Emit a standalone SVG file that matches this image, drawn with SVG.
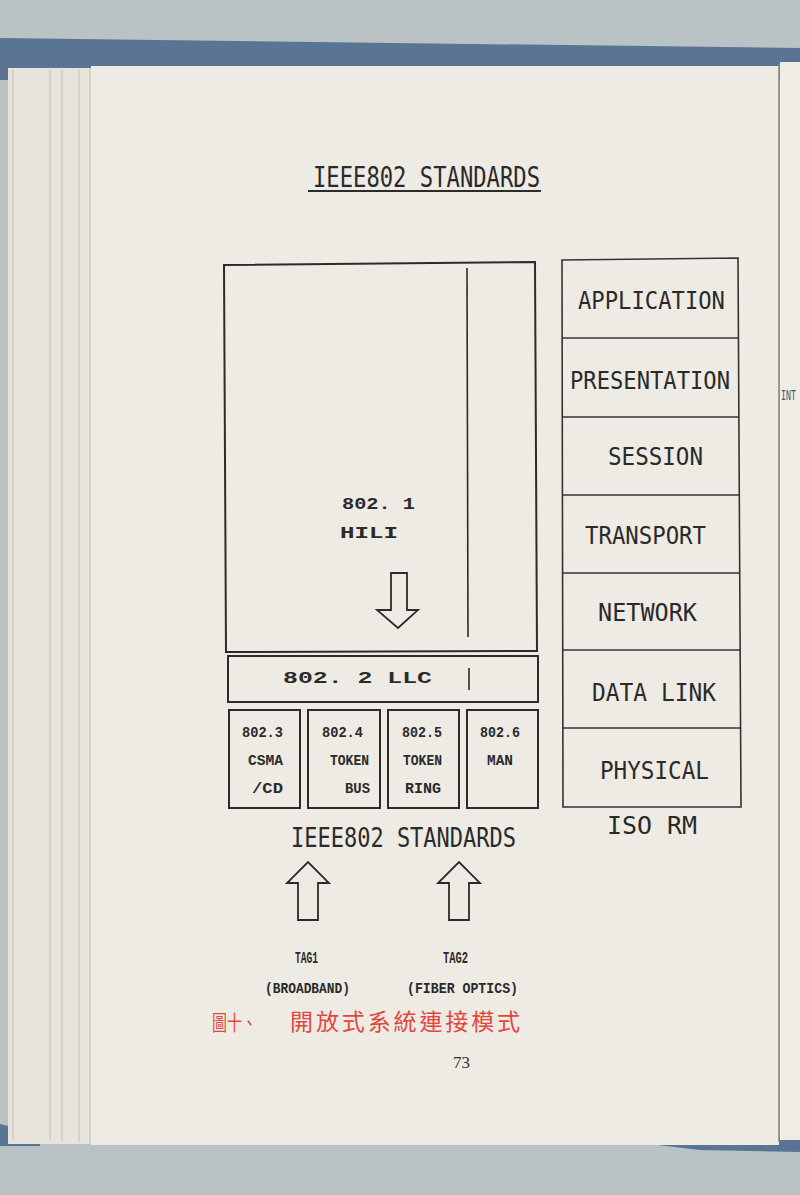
<svg xmlns="http://www.w3.org/2000/svg" width="800" height="1195" viewBox="0 0 800 1195">
<style>
.box{fill:none;stroke:#2b2b2b;stroke-width:2}
.iso{fill:none;stroke:#333;stroke-width:1.6}
.arrow{fill:none;stroke:#2b2b2b;stroke-width:1.8;stroke-linejoin:miter}
.mono{font-family:"DejaVu Sans Mono","Liberation Mono",monospace;fill:#2a2a2a}
.dot{font-family:"Liberation Mono","DejaVu Sans Mono",monospace;font-weight:bold;fill:#2a2a2a}
.cap{font-family:"Noto Sans CJK TC","Noto Sans CJK SC",sans-serif;fill:#e4453c}
</style>
<!-- backdrop -->
<rect x="0" y="0" width="800" height="1195" fill="#b9c2c5"/>
<polygon points="0,38 800,48 800,80 0,80" fill="#5a7494"/>
<polygon points="0,1124 40,1134 40,1146 0,1146" fill="#5a7494"/>
<polygon points="640,1143 800,1136 800,1152 700,1150" fill="#5a7494"/>
<!-- left page stack -->
<rect x="8" y="68" width="86" height="1076" fill="#e8e4db"/>
<g stroke="#cdc8bd" stroke-width="1.2">
<line x1="13" y1="70" x2="13" y2="1140"/>
<line x1="50" y1="70" x2="50" y2="1140"/>
<line x1="62" y1="70" x2="62" y2="1142"/>
<line x1="79" y1="70" x2="79" y2="1142"/>
<line x1="90" y1="68" x2="90" y2="1144"/>
</g>
<!-- main page -->
<rect x="91" y="66" width="688" height="1079" fill="#eeebe4"/>
<rect x="780" y="62" width="20" height="1078" fill="#f0ede7"/>
<line x1="779" y1="64" x2="779" y2="1142" stroke="#8e887e" stroke-width="1.6"/>
<text x="781" y="400" font-family="DejaVu Sans Mono, monospace" font-size="14" fill="#555" textLength="15" lengthAdjust="spacingAndGlyphs">INT</text>

<!-- title -->
<g id="title">
<text x="313" y="187" class="mono" font-size="28" textLength="227" lengthAdjust="spacingAndGlyphs">IEEE802 STANDARDS</text>
<line x1="308" y1="191" x2="541" y2="191" stroke="#2b2b2b" stroke-width="1.8"/>
</g>

<!-- 802.1 HILI -->
<g id="node-8021">
<polygon class="box" points="224,265 535,262 537,651 226,652"/>
<line x1="467" y1="268" x2="468" y2="637" stroke="#2b2b2b" stroke-width="1.6"/>
<text x="342" y="509" class="dot" font-size="17" textLength="73" lengthAdjust="spacingAndGlyphs">802. 1</text>
<text x="340" y="538" class="dot" font-size="17" textLength="58" lengthAdjust="spacingAndGlyphs">HILI</text>
</g>

<!-- 802.2 LLC -->
<g id="node-8022">
<rect class="box" x="228" y="656" width="310" height="46"/>
<line x1="469" y1="668" x2="469" y2="690" stroke="#2b2b2b" stroke-width="1.6"/>
<text x="283" y="683" class="dot" font-size="17" textLength="149" lengthAdjust="spacingAndGlyphs">802. 2 LLC</text>
</g>

<!-- MAC boxes -->
<g id="node-8023">
<rect class="box" x="229" y="710" width="71" height="98"/>
<text x="242" y="737" class="dot" font-size="14" textLength="41" lengthAdjust="spacingAndGlyphs">802.3</text>
<text x="248" y="765" class="dot" font-size="14" textLength="35" lengthAdjust="spacingAndGlyphs">CSMA</text>
<text x="252" y="793" class="dot" font-size="14" textLength="31" lengthAdjust="spacingAndGlyphs">/CD</text>
</g>
<g id="node-8024">
<rect class="box" x="308" y="710" width="72" height="98"/>
<text x="322" y="737" class="dot" font-size="14" textLength="41" lengthAdjust="spacingAndGlyphs">802.4</text>
<text x="330" y="765" class="dot" font-size="14" textLength="39" lengthAdjust="spacingAndGlyphs">TOKEN</text>
<text x="345" y="793" class="dot" font-size="14" textLength="25" lengthAdjust="spacingAndGlyphs">BUS</text>
</g>
<g id="node-8025">
<rect class="box" x="388" y="710" width="71" height="98"/>
<text x="402" y="737" class="dot" font-size="14" textLength="40" lengthAdjust="spacingAndGlyphs">802.5</text>
<text x="403" y="765" class="dot" font-size="14" textLength="39" lengthAdjust="spacingAndGlyphs">TOKEN</text>
<text x="405" y="793" class="dot" font-size="14" textLength="36" lengthAdjust="spacingAndGlyphs">RING</text>
</g>
<g id="node-8026">
<rect class="box" x="467" y="710" width="71" height="98"/>
<text x="480" y="737" class="dot" font-size="14" textLength="40" lengthAdjust="spacingAndGlyphs">802.6</text>
<text x="487" y="765" class="dot" font-size="14" textLength="26" lengthAdjust="spacingAndGlyphs">MAN</text>
</g>

<g id="label-standards">
<text x="291" y="847" class="mono" font-size="26" textLength="225" lengthAdjust="spacingAndGlyphs">IEEE802 STANDARDS</text>
</g>

<!-- ISO RM -->
<g id="node-iso">
<polygon class="iso" points="562,260 738,258 741,807 563,807"/>
<line class="iso" x1="562" y1="338" x2="739" y2="338"/>
<line class="iso" x1="562" y1="417" x2="739" y2="417"/>
<line class="iso" x1="562" y1="495" x2="740" y2="495"/>
<line class="iso" x1="563" y1="573" x2="740" y2="573"/>
<line class="iso" x1="563" y1="650" x2="740" y2="650"/>
<line class="iso" x1="563" y1="728" x2="741" y2="728"/>
<text x="578" y="309" class="mono" font-size="25" textLength="147" lengthAdjust="spacingAndGlyphs">APPLICATION</text>
<text x="570" y="389" class="mono" font-size="25" textLength="160" lengthAdjust="spacingAndGlyphs">PRESENTATION</text>
<text x="608" y="465" class="mono" font-size="25" textLength="95" lengthAdjust="spacingAndGlyphs">SESSION</text>
<text x="585" y="544" class="mono" font-size="25" textLength="121" lengthAdjust="spacingAndGlyphs">TRANSPORT</text>
<text x="598" y="621" class="mono" font-size="25" textLength="99" lengthAdjust="spacingAndGlyphs">NETWORK</text>
<text x="592" y="701" class="mono" font-size="25" textLength="124" lengthAdjust="spacingAndGlyphs">DATA LINK</text>
<text x="600" y="779" class="mono" font-size="25" textLength="109" lengthAdjust="spacingAndGlyphs">PHYSICAL</text>
<text x="607" y="834" class="mono" font-size="24" textLength="90" lengthAdjust="spacingAndGlyphs">ISO RM</text>
</g>

<!-- connectors (block arrows) -->
<g id="connectors">
<polygon class="arrow" points="391,573 407,573 407,610 418,610 398,628 377,610 391,610"/>
<polygon class="arrow" points="298,920 318,920 318,883 329,883 308,862 287,883 298,883"/>
<polygon class="arrow" points="449,920 469,920 469,883 480,883 459,862 438,883 449,883"/>
</g>

<g id="node-tag1">
<text x="295" y="963" class="dot" font-size="16" textLength="23" lengthAdjust="spacingAndGlyphs">TAG1</text>
<text x="265" y="993" class="dot" font-size="15" textLength="85" lengthAdjust="spacingAndGlyphs">(BROADBAND)</text>
</g>
<g id="node-tag2">
<text x="443" y="963" class="dot" font-size="16" textLength="25" lengthAdjust="spacingAndGlyphs">TAG2</text>
<text x="407" y="993" class="dot" font-size="15" textLength="111" lengthAdjust="spacingAndGlyphs">(FIBER OPTICS)</text>
</g>

<g id="caption">
<text x="212" y="1030" class="cap" font-size="21" textLength="45" lengthAdjust="spacingAndGlyphs">圖十、</text>
<text x="290" y="1030" class="cap" font-size="23" textLength="230" lengthAdjust="spacing">開放式系統連接模式</text>
<text x="453" y="1068" font-family="Liberation Serif, serif" font-size="17" fill="#333">73</text>
</g>
</svg>
